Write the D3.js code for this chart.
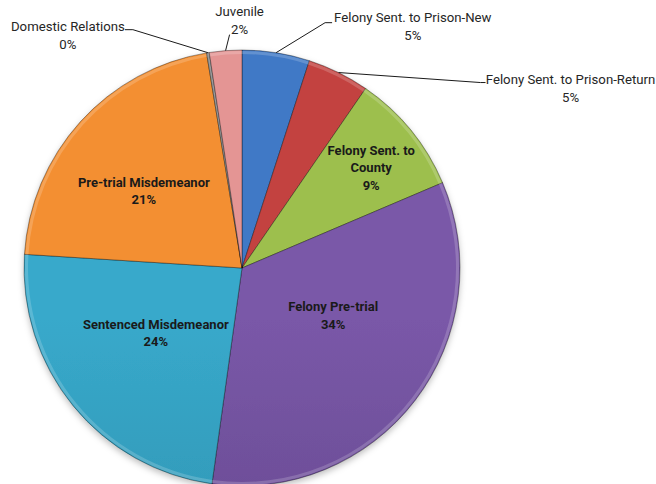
<!DOCTYPE html>
<html>
<head>
<meta charset="utf-8">
<script src="https://cdn.jsdelivr.net/npm/d3@7"></script>
<style>
  html, body { margin: 0; padding: 0; background: #fff; }
  svg { display: block; }
</style>
</head>
<body>
<div id="chart"></div>
<script>
// Categories in clockwise order starting at 12 o'clock
const categories = [
  'Felony Sent. to Prison-New',
  'Felony Sent. to Prison-Return',
  'Felony Sent. to County',
  'Felony Pre-trial',
  'Sentenced Misdemeanor',
  'Pre-trial Misdemeanor',
  'Domestic Relations',
  'Juvenile'
]
// Share of population (percent)
const values = [5.0, 4.6, 9.0, 33.6, 23.8, 21.4, 0.2, 2.4]
// Base colours per slice (top, bottom of the vertical gradient)
const colorsTop = ['#4179c6', '#c3433f', '#9dbf4d', '#7a58a8', '#38a9cb', '#f38f31', '#9a9a9a', '#e49594']
const colorsBottom = ['#3566ac', '#aa3633', '#84a63b', '#5b4183', '#2b89a4', '#d9782a', '#7a7a7a', '#cc7e7d']
// Slices whose label sits outside with a leader line
const outsideLabels = ['Felony Sent. to Prison-New', 'Felony Sent. to Prison-Return', 'Domestic Relations', 'Juvenile']

const width = 656
const height = 484
const cx = 242
const cy = 268
const radius = 218

// Layout tweaks for label placement (in px, relative to computed anchors)
const insideNudge = {
  'Felony Sent. to County': [11, -3],
  'Felony Pre-trial': [-30, -45],
  'Sentenced Misdemeanor': [32, -31],
  'Pre-trial Misdemeanor': [15, 26]
}
// for outside labels: elbow point, end point, text anchor point (relative to edge point)
const outsideLayout = {
  'Juvenile': { elbow: [4, -16], end: [4, -16], text: [14, -35], anchor: 'middle' },
  'Domestic Relations': { elbow: [-75, -23], end: [-83, -23], text: [-140, -22], anchor: 'middle' },
  'Felony Sent. to Prison-New': { elbow: [49, -30], end: [56, -30], text: [58, -31], anchor: 'start' },
  'Felony Sent. to Prison-Return': { elbow: [142, 10], end: [147, 10], text: [232, 11], anchor: 'middle' }
}

const data = categories.map((c, i) => ({ name: c, value: values[i], i }))
const total = d3.sum(values)

const svg = d3.select('#chart')
  .append('svg')
  .attr('width', width)
  .attr('height', height)

const defs = svg.append('defs')

// Gradients spanning the whole pie height
data.forEach((d) => {
  const g = defs.append('linearGradient')
    .attr('id', 'grad' + d.i)
    .attr('gradientUnits', 'userSpaceOnUse')
    .attr('x1', 0).attr('x2', 0)
    .attr('y1', cy - radius).attr('y2', cy + radius)
  g.append('stop').attr('offset', '0%').attr('stop-color', colorsTop[d.i])
  g.append('stop').attr('offset', '100%').attr('stop-color', colorsBottom[d.i])
})

// Soft shadow under the pie
const shadow = defs.append('filter')
  .attr('id', 'shadow')
  .attr('x', '-10%').attr('y', '-10%')
  .attr('width', '120%').attr('height', '120%')
shadow.append('feDropShadow')
  .attr('dx', 0).attr('dy', 3)
  .attr('stdDeviation', 3)
  .attr('flood-color', '#000')
  .attr('flood-opacity', 0.25)

const pie = d3.pie().sort(null).value((d) => d.value)
const arcs = pie(data)

const arc = d3.arc().innerRadius(0).outerRadius(radius)
const rimArc = d3.arc().innerRadius(radius - 4).outerRadius(radius - 1)
const labelArc = d3.arc().innerRadius(radius * 0.7).outerRadius(radius * 0.7)
const edgeArc = d3.arc().innerRadius(radius).outerRadius(radius)

const g = svg.append('g').attr('transform', `translate(${cx},${cy})`)

const pieGroup = g.append('g').attr('filter', 'url(#shadow)')

pieGroup.selectAll('path.slice')
  .data(arcs)
  .enter()
  .append('path')
  .attr('class', 'slice')
  .attr('d', arc)
  .attr('fill', (d) => `url(#grad${d.data.i})`)
  .attr('stroke', 'rgba(0,0,0,0.4)')
  .attr('stroke-width', 0.9)

// Bevel-like highlight along the outer rim
g.selectAll('path.rim')
  .data(arcs.filter((d) => d.endAngle - d.startAngle > 0.02))
  .enter()
  .append('path')
  .attr('class', 'rim')
  .attr('d', rimArc)
  .attr('fill', 'rgba(255,255,255,0.18)')

const pct = (d) => Math.round((d.data.value / total) * 100) + '%'

// Inside labels
const inside = g.selectAll('text.inside')
  .data(arcs.filter((d) => !outsideLabels.includes(d.data.name)))
  .enter()
  .append('text')
  .attr('class', 'inside')
  .attr('text-anchor', 'middle')
  .style('font-family', 'Roboto, "DejaVu Sans", sans-serif')
  .style('font-weight', 700)
  .style('font-size', '13px')
  .attr('fill', '#1a1a1a')
  .attr('transform', (d) => {
    const [x, y] = labelArc.centroid(d)
    const n = insideNudge[d.data.name] || [0, 0]
    return `translate(${x + n[0]},${y + n[1]})`
  })

inside.each(function (d) {
  const t = d3.select(this)
  const lines = d.data.name === 'Felony Sent. to County'
    ? ['Felony Sent. to', 'County', pct(d)]
    : [d.data.name, pct(d)]
  const lh = 17.5
  const offset = -((lines.length - 1) * lh) / 2 + 4
  lines.forEach((l, k) => {
    t.append('tspan')
      .attr('x', 0)
      .attr('y', offset + k * lh)
      .text(l)
  })
})

// Outside labels with leader lines
const outside = arcs.filter((d) => outsideLabels.includes(d.data.name))

outside.forEach((d) => {
  const lay = outsideLayout[d.data.name]
  const [ex, ey] = edgeArc.centroid(d)
  const pts = [
    [ex, ey],
    [ex + lay.elbow[0], ey + lay.elbow[1]],
    [ex + lay.end[0], ey + lay.end[1]]
  ]
  g.append('path')
    .attr('d', d3.line()(pts))
    .attr('fill', 'none')
    .attr('stroke', '#1a1a1a')
    .attr('stroke-width', 1)

  const tx = ex + lay.text[0]
  const ty = ey + lay.text[1]
  const t = g.append('text')
    .attr('text-anchor', 'middle')
    .style('font-family', 'Roboto, "DejaVu Sans", sans-serif')
    .style('font-size', '13.2px')
    .attr('fill', '#262626')
    .attr('transform', `translate(${tx},${ty})`)

  if (lay.anchor === 'start') {
    // left-aligned block: centre both lines on the name's width
    const name = t.append('tspan').attr('x', 0).attr('y', 0).text(d.data.name)
    const w = t.node().getComputedTextLength()
    name.attr('x', w / 2)
    t.append('tspan').attr('x', w / 2).attr('y', 18).text(pct(d))
  } else {
    t.append('tspan').attr('x', 0).attr('y', 0).text(d.data.name)
    t.append('tspan').attr('x', 0).attr('y', 18).text(pct(d))
  }
})
</script>
</body>
</html>
